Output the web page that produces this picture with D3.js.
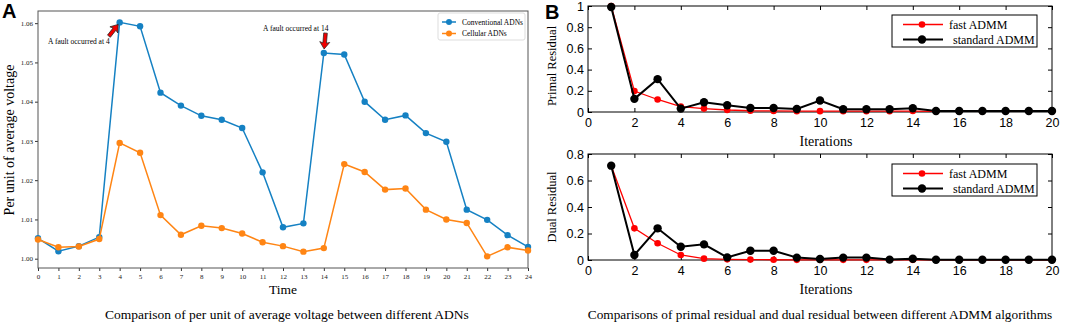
<!DOCTYPE html>
<html>
<head>
<meta charset="utf-8">
<script src="https://cdn.jsdelivr.net/npm/d3@7"></script>
<style>
    body { margin: 0; background: #fff; }
    svg { display: block; }
    .serif { font-family: "Liberation Serif", "Times New Roman", serif; }
    .sans { font-family: "Liberation Sans", Arial, sans-serif; }
</style>
</head>
<body>
<div id="chart"></div>
<script>

// ---- panel A: per unit average voltage, 24 h
var hours = [0, 1, 2, 3, 4, 5, 6, 7, 8, 9, 10, 11, 12, 13, 14, 15, 16, 17, 18, 19, 20, 21, 22, 23, 24];

var conventional = [1.0052, 1.0019, 1.0032, 1.0055, 1.0602, 1.0592, 1.0423, 1.0390, 1.0364, 1.0354, 1.0333, 1.0220, 1.0080,
    1.0090, 1.0524, 1.0520, 1.0400, 1.0354, 1.0365, 1.0320, 1.0298, 1.0125, 1.0099, 1.0060, 1.0030];

var cellular = [1.0049, 1.0029, 1.0031, 1.0050, 1.0295, 1.0270, 1.0111, 1.0061, 1.0084, 1.0078, 1.0064, 1.0042, 1.0032,
    1.0018, 1.0027, 1.0241, 1.0221, 1.0176, 1.0179, 1.0125, 1.0100, 1.0091, 1.0006, 1.0029, 1.0021];

var voltageTicks = [1.00, 1.01, 1.02, 1.03, 1.04, 1.05, 1.06];

// ---- panel B: ADMM residuals
var iterations = [1, 2, 3, 4, 5, 6, 7, 8, 9, 10, 11, 12, 13, 14, 15, 16, 17, 18, 19, 20];

var primalFast = [1.0, 0.197, 0.118, 0.051, 0.032, 0.019, 0.012, 0.010, 0.008, 0.008, 0.008, 0.008, 0.008, 0.009,
    0.006, 0.006, 0.006, 0.006, 0.006, 0.006];
var primalStandard = [0.99, 0.124, 0.31, 0.032, 0.092, 0.064, 0.038, 0.038, 0.029, 0.108, 0.026, 0.026, 0.026, 0.035,
    0.010, 0.010, 0.010, 0.010, 0.010, 0.010];

var dualFast = [0.712, 0.239, 0.126, 0.038, 0.010, 0.005, 0.003, 0.002, 0.001, 0.001, 0.001, 0.001, 0.001, 0.001,
    0.001, 0.001, 0.001, 0.001, 0.001, 0.001];
var dualStandard = [0.712, 0.038, 0.239, 0.100, 0.118, 0.020, 0.070, 0.070, 0.018, 0.008, 0.018, 0.018, 0.003, 0.010,
    0.002, 0.002, 0.002, 0.002, 0.002, 0.002];

var iterTicks = [0, 2, 4, 6, 8, 10, 12, 14, 16, 18, 20];
var primalTicks = [0, 0.2, 0.4, 0.6, 0.8, 1];
var dualTicks = [0, 0.2, 0.4, 0.6, 0.8];


(function () {

    var width = 1065, height = 325;
    var blue = '#1581c3', orange = '#ff8514';

    var svg = d3.select('#chart')
        .append('svg')
        .attr('width', width)
        .attr('height', height);


    // ================= panel A =================
    var A = { left: 38, right: 528, top: 11, bottom: 268 };

    var xA = d3.scaleLinear().domain([0, 24]).range([A.left, A.right]);
    var yA = d3.scaleLinear().domain([0.99763, 1.0631]).range([A.bottom, A.top]);

    var gA = svg.append('g');

    gA.append('g')
        .attr('class', 'serif')
        .attr('transform', 'translate(0,' + A.bottom + ')')
        .call(d3.axisBottom(xA).tickValues(hours).tickSize(3).tickPadding(3).tickFormat(d3.format('d')))
        .call(g => g.select('.domain').remove())
        .call(g => g.selectAll('text').attr('font-size', 7).attr('font-family', null).attr('fill', '#222'))
        .call(g => g.selectAll('line').attr('stroke', '#333'));

    gA.append('g')
        .attr('class', 'serif')
        .attr('transform', 'translate(' + A.left + ',0)')
        .call(d3.axisLeft(yA).tickValues(voltageTicks).tickSize(3).tickPadding(2).tickFormat(d3.format('.2f')))
        .call(g => g.select('.domain').remove())
        .call(g => g.selectAll('text').attr('font-size', 7).attr('font-family', null).attr('fill', '#222'))
        .call(g => g.selectAll('line').attr('stroke', '#333'));

    gA.append('rect')
        .attr('x', A.left).attr('y', A.top)
        .attr('width', A.right - A.left).attr('height', A.bottom - A.top)
        .attr('fill', 'none').attr('stroke', '#555').attr('stroke-width', 1);

    var lineA = function (vals) {
        return d3.line()
            .x((d, i) => xA(hours[i]))
            .y(d => yA(d))(vals);
    };

    [[conventional, blue], [cellular, orange]].forEach(function (s) {
        gA.append('path')
            .attr('d', lineA(s[0]))
            .attr('fill', 'none')
            .attr('stroke', s[1])
            .attr('stroke-width', 1.5);

        gA.selectAll(null)
            .data(s[0])
            .enter()
            .append('circle')
            .attr('cx', (d, i) => xA(hours[i]))
            .attr('cy', d => yA(d))
            .attr('r', 3.2)
            .attr('fill', s[1]);
    });

    // fault annotations
    var arrow = function (tx, ty, angle, len) {
        var pts = [[0, 0], [-7, -5], [-6, -1.8], [-len, -1.8], [-len, 1.8], [-6, 1.8], [-7, 5]];
        gA.append('polygon')
            .attr('points', pts.map(p => p.join(',')).join(' '))
            .attr('transform', 'translate(' + tx + ',' + ty + ') rotate(' + angle + ')')
            .attr('fill', '#f00000')
            .attr('stroke', '#222')
            .attr('stroke-width', 0.7);
    };

    arrow(xA(4) - 1.5, yA(conventional[4]) + 2, -52, 15);
    arrow(xA(14) + 0.3, yA(conventional[14]) - 4, 95, 16);

    gA.append('text')
        .attr('class', 'serif')
        .attr('x', 48).attr('y', 44)
        .attr('font-size', 7.5)
        .text('A fault occurred at 4');

    gA.append('text')
        .attr('class', 'serif')
        .attr('x', 263).attr('y', 31)
        .attr('font-size', 7.5)
        .text('A fault occurred at 14');

    // legend A
    var legA = gA.append('g').attr('transform', 'translate(438,13)');
    legA.append('rect')
        .attr('width', 87).attr('height', 27)
        .attr('rx', 2)
        .attr('fill', '#fff').attr('stroke', '#ddd');

    [['Conventional ADNs', blue], ['Cellular ADNs', orange]].forEach(function (d, i) {
        var yy = 9 + i * 11.5;
        legA.append('line')
            .attr('x1', 4).attr('x2', 18).attr('y1', yy).attr('y2', yy)
            .attr('stroke', d[1]).attr('stroke-width', 1.5);
        legA.append('circle')
            .attr('cx', 11).attr('cy', yy).attr('r', 3).attr('fill', d[1]);
        legA.append('text')
            .attr('class', 'serif')
            .attr('x', 24).attr('y', yy + 2.6)
            .attr('font-size', 7.5)
            .text(d[0]);
    });

    // axis labels and caption
    gA.append('text')
        .attr('class', 'serif')
        .attr('transform', 'translate(14,140) rotate(-90)')
        .attr('text-anchor', 'middle')
        .attr('font-size', 14)
        .text('Per unit of average voltage');

    gA.append('text')
        .attr('class', 'serif')
        .attr('x', 283).attr('y', 294)
        .attr('text-anchor', 'middle')
        .attr('font-size', 13.5)
        .text('Time');

    gA.append('text')
        .attr('class', 'serif')
        .attr('x', 287).attr('y', 319)
        .attr('text-anchor', 'middle')
        .attr('font-size', 13.5)
        .text('Comparison of per unit of average voltage between different ADNs');

    gA.append('text')
        .attr('class', 'sans')
        .attr('x', 2).attr('y', 18)
        .attr('font-size', 20)
        .attr('font-weight', 'bold')
        .text('A');


    // ================= panel B =================
    var xB = d3.scaleLinear().domain([0, 20]).range([588, 1052]);

    var residualPlot = function (cfg) {
        var y = d3.scaleLinear().domain(cfg.domain).range([cfg.bottom, cfg.top]);
        var g = svg.append('g');

        var styleAxis = function (sel, labels) {
            sel.select('.domain').remove();
            sel.selectAll('line').attr('stroke', '#000');
            sel.selectAll('text')
                .attr('font-size', 12.5)
                .attr('font-family', '"Liberation Sans", Arial, sans-serif')
                .attr('fill', '#000');
            if (!labels) sel.selectAll('text').remove();
        };

        g.append('g')
            .attr('transform', 'translate(0,' + cfg.bottom + ')')
            .call(d3.axisBottom(xB).tickValues(iterTicks).tickSize(-4).tickPadding(6))
            .call(s => styleAxis(s, true));

        g.append('g')
            .attr('transform', 'translate(0,' + cfg.top + ')')
            .call(d3.axisTop(xB).tickValues(iterTicks).tickSize(-4))
            .call(s => styleAxis(s, false));

        g.append('g')
            .attr('transform', 'translate(588,0)')
            .call(d3.axisLeft(y).tickValues(cfg.ticks).tickSize(-4).tickPadding(4).tickFormat(d3.format('~g')))
            .call(s => styleAxis(s, true));

        g.append('g')
            .attr('transform', 'translate(1052,0)')
            .call(d3.axisRight(y).tickValues(cfg.ticks).tickSize(-4))
            .call(s => styleAxis(s, false));

        g.append('rect')
            .attr('x', 588).attr('y', cfg.top)
            .attr('width', 1052 - 588).attr('height', cfg.bottom - cfg.top)
            .attr('fill', 'none').attr('stroke', '#000').attr('stroke-width', 1);

        var line = d3.line()
            .x((d, i) => xB(iterations[i]))
            .y(d => y(d));

        [[cfg.fast, '#ff0000', 1.3, 3.3], [cfg.standard, '#000', 2, 4.2]].forEach(function (s) {
            g.append('path')
                .attr('d', line(s[0]))
                .attr('fill', 'none')
                .attr('stroke', s[1])
                .attr('stroke-width', s[2]);

            g.selectAll(null)
                .data(s[0])
                .enter()
                .append('circle')
                .attr('cx', (d, i) => xB(iterations[i]))
                .attr('cy', d => y(d))
                .attr('r', s[3])
                .attr('fill', s[1]);
        });

        // legend
        var leg = g.append('g').attr('transform', 'translate(892,' + cfg.legendTop + ')');
        leg.append('rect')
            .attr('width', 145).attr('height', 32)
            .attr('fill', '#fff').attr('stroke', '#000');

        [['fast ADMM', '#ff0000', 1.3, 3.3, 57], ['standard ADMM', '#000', 2, 4.2, 61]].forEach(function (d, i) {
            var yy = 9.5 + i * 15;
            leg.append('line')
                .attr('x1', 11).attr('x2', 51).attr('y1', yy).attr('y2', yy)
                .attr('stroke', d[1]).attr('stroke-width', d[2]);
            leg.append('circle')
                .attr('cx', 30).attr('cy', yy).attr('r', d[3]).attr('fill', d[1]);
            leg.append('text')
                .attr('class', 'serif')
                .attr('x', d[4]).attr('y', yy + 4)
                .attr('font-size', 12)
                .text(d[0]);
        });

        g.append('text')
            .attr('class', 'serif')
            .attr('transform', 'translate(556,' + cfg.labelY + ') rotate(-90)')
            .attr('text-anchor', 'middle')
            .attr('font-size', 12.5)
            .text(cfg.label);

        g.append('text')
            .attr('class', 'serif')
            .attr('x', 826).attr('y', cfg.bottom + 34)
            .attr('text-anchor', 'middle')
            .attr('font-size', 14)
            .text('Iterations');
    };

    residualPlot({
        top: 6, bottom: 112, domain: [0, 1], ticks: primalTicks,
        fast: primalFast, standard: primalStandard,
        legendTop: 15, label: 'Primal Residual', labelY: 66
    });

    residualPlot({
        top: 154, bottom: 260, domain: [0, 0.8], ticks: dualTicks,
        fast: dualFast, standard: dualStandard,
        legendTop: 164, label: 'Dual Residual', labelY: 207
    });

    svg.append('text')
        .attr('class', 'serif')
        .attr('x', 820).attr('y', 319)
        .attr('text-anchor', 'middle')
        .attr('font-size', 13.3)
        .text('Comparisons of primal residual and dual residual between different ADMM algorithms');

    svg.append('text')
        .attr('class', 'sans')
        .attr('x', 545).attr('y', 19)
        .attr('font-size', 20)
        .attr('font-weight', 'bold')
        .text('B');

})();
</script>
</body>
</html>
